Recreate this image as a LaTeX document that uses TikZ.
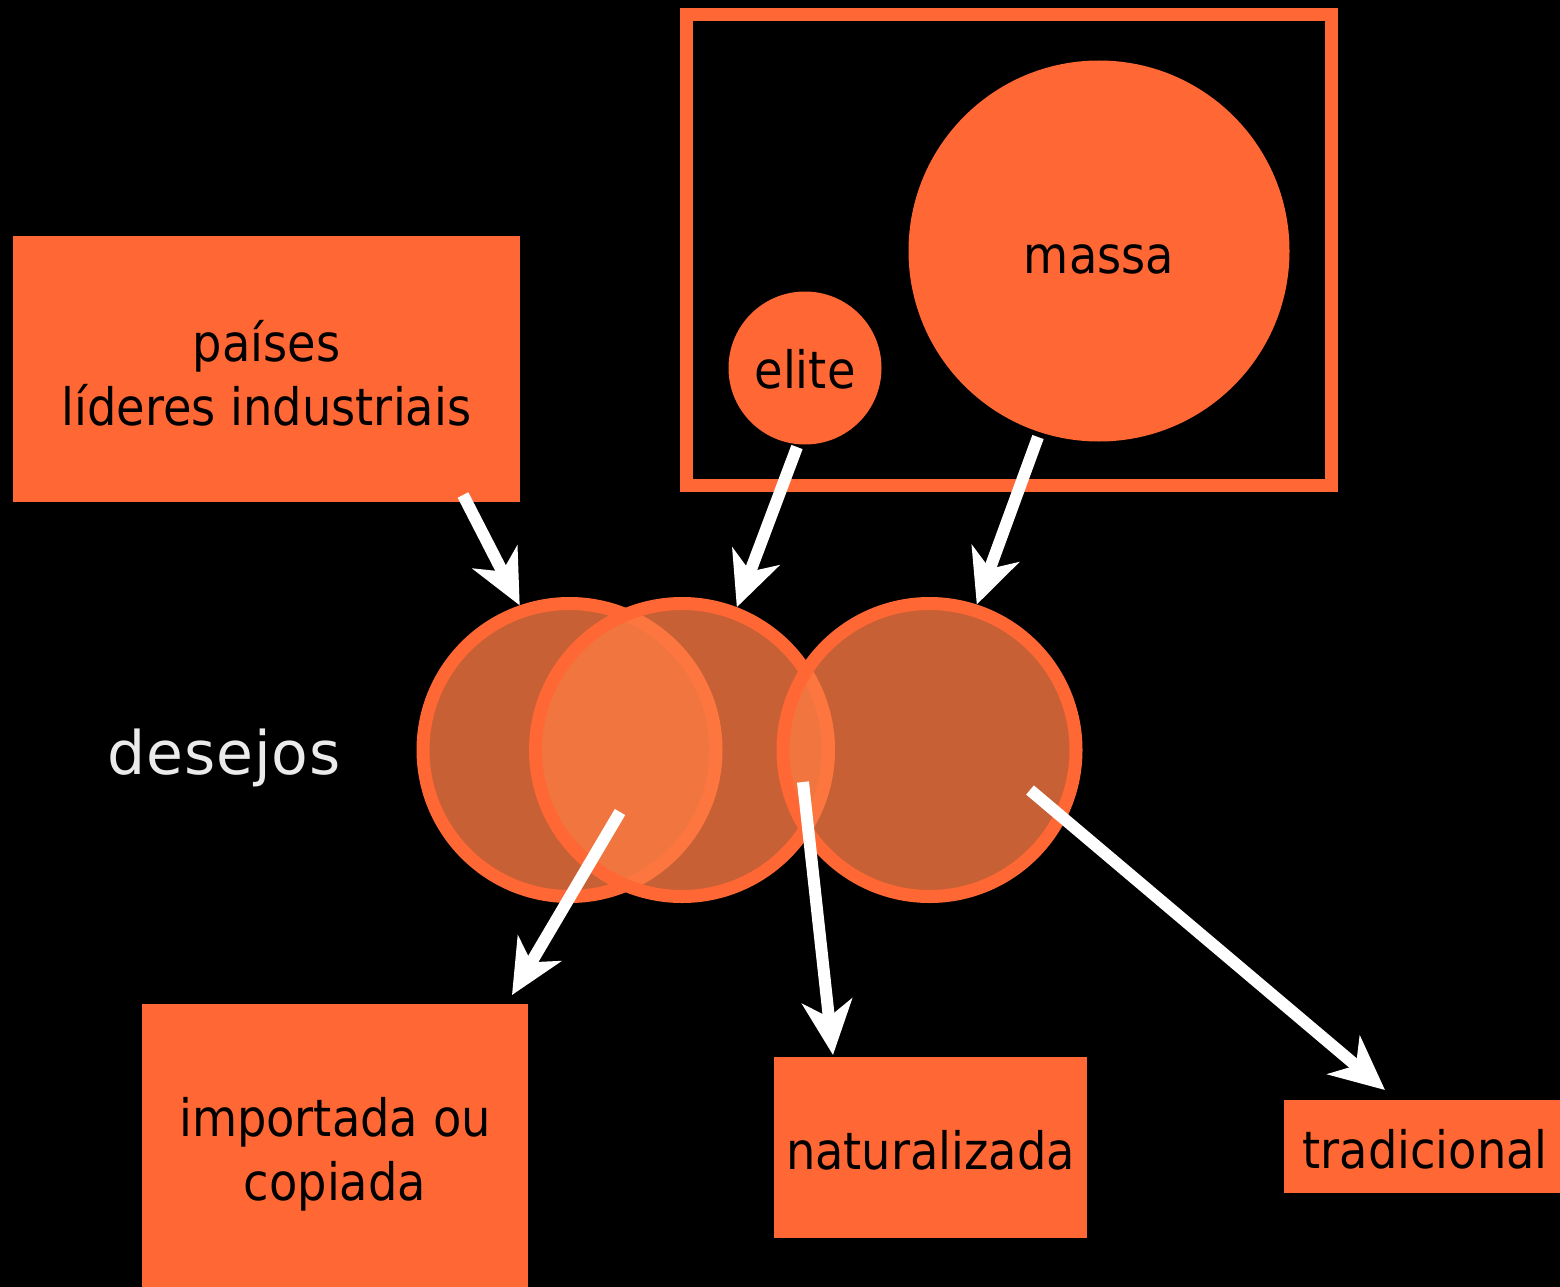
\documentclass[tikz,border=0pt]{standalone}
\usepackage{fontspec}
\setmainfont{DejaVu Sans Condensed}
\newfontfamily\desfont{DejaVu Sans}
\usetikzlibrary{arrows.meta}
\definecolor{org}{RGB}{255,104,53}
\definecolor{orgfill}{RGB}{253,123,66}
\definecolor{lightgray}{RGB}{235,235,235}
\tikzset{
  box/.style={rectangle, fill=org, inner sep=0pt},
  txt/.style={inner sep=0pt, align=center, font=\fontsize{51.5}{64}\selectfont, text=black},
  solidcirc/.style={circle, fill=org, inner sep=0pt},
  venn/.style={circle, draw=org, line width=13pt, fill=orgfill, fill opacity=0.79, inner sep=0pt, minimum size=293pt},
  flow/.style={draw=white, line width=12pt, -{Stealth[length=54pt,width=50pt,inset=16pt]}},
}
\begin{document}
\begin{tikzpicture}[x=1pt,y=-1pt]
\fill[black] (0,0) rectangle (1560,1287);
\useasboundingbox (0,0) rectangle (1560,1287);

% top frame
\draw[org, line width=13pt] (686.5,14.5) rectangle (1331.5,485.5);
\node[solidcirc, minimum size=381pt] (massa) at (1099,251) {};
\node[txt] (massaT) at ([yshift=-8pt]massa.center) {massa};
\node[solidcirc, minimum size=153pt] (elite) at (805,368) {};
\node[txt] (eliteT) at ([yshift=-1pt]elite.center) {elite};

% left box
\node[box, minimum width=507pt, minimum height=266pt] (paises) at (266.5,369) {};
\node[txt] (paisesT) at ([yshift=-4pt]paises.center) {países\\líderes industriais};

% venn circles
\node[venn] (c1) at (569.5,750) {};
\node[venn] (c2) at (682,750) {};
\node[venn] (c3) at (929.5,750) {};

\node[text=lightgray, font=\desfont\fontsize{60}{70}\selectfont] (desejos) at (224,758) {d\kern1pt e\kern1pt s\kern1pt e\kern1pt j\kern1pt o\kern1pt s};

% bottom boxes
\node[box, minimum width=386pt, minimum height=283pt] (importada) at (335,1145.5) {};
\node[txt] (importadaT) at ([yshift=-9pt]importada.center) {importada ou\\copiada};
\node[box, minimum width=313pt, minimum height=181pt] (natur) at (930.5,1147.5) {};
\node[txt] (naturT) at ([yshift=-3pt]natur.center) {naturalizada};
\node[box, minimum width=276pt, minimum height=93pt] (trad) at (1422,1146.5) {};
\node[txt] (tradT) at ([yshift=-3pt,xshift=3pt]trad.center) {tradicional};

% connector ends
\coordinate (p1s) at (463,495);
\coordinate (e1s) at (797,447);
\coordinate (m1s) at (1038,437);
\coordinate (v1s) at (620,812);
\coordinate (v2s) at (803,782);
\coordinate (v3s) at (1030,790);
\coordinate (imp1) at (512,995);
\coordinate (nat1) at (833,1055);
\coordinate (trad1) at (1385,1090);

\draw[flow] (p1s) -- (c1.109.7);
\draw[flow] (e1s) -- (c2.69.7);
\draw[flow] (m1s) -- (c3.72);
\draw[flow] (v1s) -- (imp1);
\draw[flow] (v2s) -- (nat1);
\draw[flow] (v3s) -- (trad1);
\end{tikzpicture}
\end{document}
